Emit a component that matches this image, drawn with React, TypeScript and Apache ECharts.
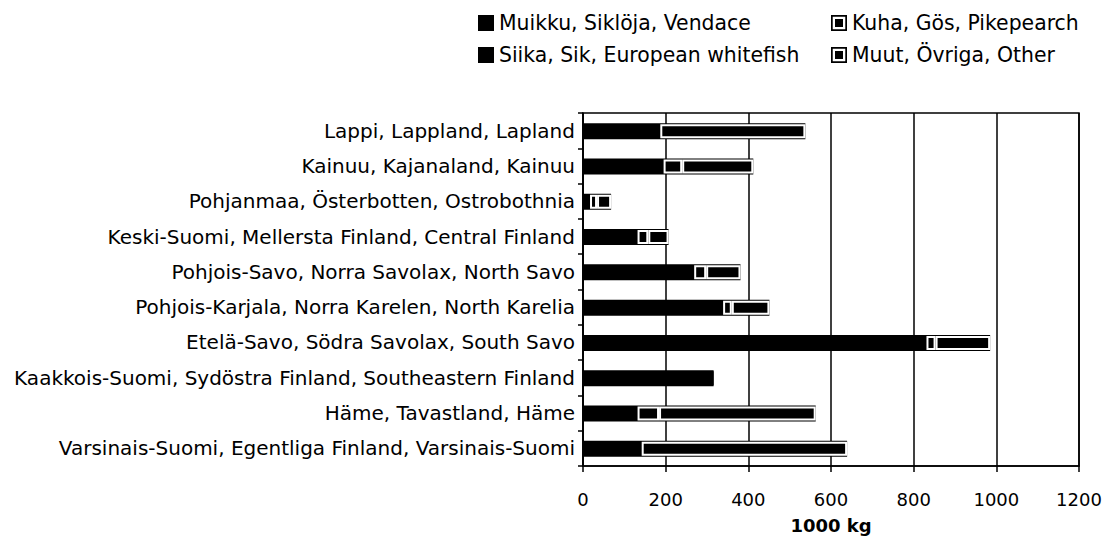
import React, { useEffect, useRef } from "react";
import * as echarts from "echarts";

const regions = [
  "Lappi, Lappland, Lapland",
  "Kainuu, Kajanaland, Kainuu",
  "Pohjanmaa, Österbotten, Ostrobothnia",
  "Keski-Suomi, Mellersta Finland, Central Finland",
  "Pohjois-Savo, Norra Savolax, North Savo",
  "Pohjois-Karjala, Norra Karelen, North Karelia",
  "Etelä-Savo, Södra Savolax, South Savo",
  "Kaakkois-Suomi, Sydöstra Finland, Southeastern Finland",
  "Häme, Tavastland, Häme",
  "Varsinais-Suomi, Egentliga Finland, Varsinais-Suomi",
];

const seriesNames = [
  "Muikku, Siklöja, Vendace",
  "Siika, Sik, European whitefish",
  "Kuha, Gös, Pikepearch",
  "Muut, Övriga, Other",
];

const muikku = [120, 165, 12, 118, 245, 300, 760, 290, 110, 130];
const siika = [67, 30, 5, 14, 24, 39, 71, 26, 22, 12];
const kuha = [0, 45, 17, 26, 29, 21, 22, 0, 52, 0];
const muut = [351, 172, 34, 49, 83, 91, 132, 0, 379, 497];

const xTicks = [0, 200, 400, 600, 800, 1000, 1200];
const xName = "1000 kg";

const FONT = "'DejaVu Sans', sans-serif";
const boxIcon =
  "path://M0,0H14V14H0Z M1.5,1.5V12.5H12.5V1.5Z M3.5,3.5H10.5V10.5H3.5Z";

export default function App() {
  const ref = useRef<HTMLDivElement>(null);
  useEffect(() => {
    if (!ref.current) return;
    const chart = echarts.init(ref.current, null, { renderer: "svg" });
    const nz = (a: number[]) => a.map((v) => (v === 0 ? null : v));
    const totals = muikku.map((v, i) => v + siika[i] + kuha[i] + muut[i]);
    const solid = { color: "#000" };
    const boxed = { color: "#000", borderColor: "#fff", borderWidth: 2 };
    const legendText = { fontFamily: FONT, fontSize: 20.4, color: "#000", lineHeight: 22 };
    const common = {
      orient: "vertical",
      top: 12,
      padding: 0,
      itemWidth: 16,
      itemHeight: 16,
      itemGap: 10,
      textStyle: legendText,
    };
    chart.setOption({
      animation: false,
      textStyle: { fontFamily: FONT },
      legend: [
        {
          ...common,
          left: 478,
          data: [
            { name: seriesNames[0], icon: "rect", itemStyle: { color: "#000", borderWidth: 0 } },
            { name: seriesNames[1], icon: "rect", itemStyle: { color: "#000", borderWidth: 0 } },
          ],
        },
        {
          ...common,
          left: 831,
          data: [
            { name: seriesNames[2], icon: boxIcon, itemStyle: { color: "#000", borderWidth: 0 } },
            { name: seriesNames[3], icon: boxIcon, itemStyle: { color: "#000", borderWidth: 0 } },
          ],
        },
      ],
      grid: {
        left: 583,
        right: 38,
        top: 113,
        bottom: 81,
        show: true,
        borderColor: "#000",
        borderWidth: 1.5,
        backgroundColor: "transparent",
      },
      xAxis: {
        type: "value",
        min: xTicks[0],
        max: xTicks[xTicks.length - 1],
        interval: 200,
        name: xName,
        nameLocation: "middle",
        nameGap: 50,
        nameTextStyle: { fontFamily: FONT, fontSize: 18, fontWeight: "bold", color: "#000" },
        axisLine: { show: true, lineStyle: { color: "#000", width: 1.5 } },
        axisTick: { show: true, length: 6, lineStyle: { color: "#000", width: 1.5 } },
        axisLabel: {
          fontFamily: FONT,
          fontSize: 18,
          color: "#000",
          margin: 24,
          formatter: (v: number) => String(v),
        },
        splitLine: { show: true, lineStyle: { color: "#000", width: 1.5 } },
      },
      yAxis: {
        type: "category",
        data: regions,
        inverse: true,
        axisLine: { show: true, lineStyle: { color: "#000", width: 1.5 } },
        axisTick: { show: true, length: 5, lineStyle: { color: "#000", width: 1.5 } },
        axisLabel: { fontFamily: FONT, fontSize: 20, color: "#000", margin: 8 },
      },
      series: [
        {
          name: "total",
          type: "bar",
          stack: "bg",
          barWidth: 16,
          barGap: "-93.75%",
          itemStyle: solid,
          data: totals,
          z: 1,
        },
        { name: seriesNames[0], type: "bar", stack: "t", barWidth: 14, barGap: "-93.75%", itemStyle: solid, data: muikku, z: 2 },
        { name: seriesNames[1], type: "bar", stack: "t", barWidth: 14, barGap: "-93.75%", itemStyle: solid, data: siika, z: 2 },
        { name: seriesNames[2], type: "bar", stack: "t", barWidth: 14, barGap: "-93.75%", itemStyle: boxed, data: nz(kuha), z: 2 },
        { name: seriesNames[3], type: "bar", stack: "t", barWidth: 14, barGap: "-93.75%", itemStyle: boxed, data: nz(muut), z: 2 },
      ],
    });
    return () => chart.dispose();
  }, []);
  return <div ref={ref} style={{ width: 1117, height: 547, margin: -8 }} />;
}
